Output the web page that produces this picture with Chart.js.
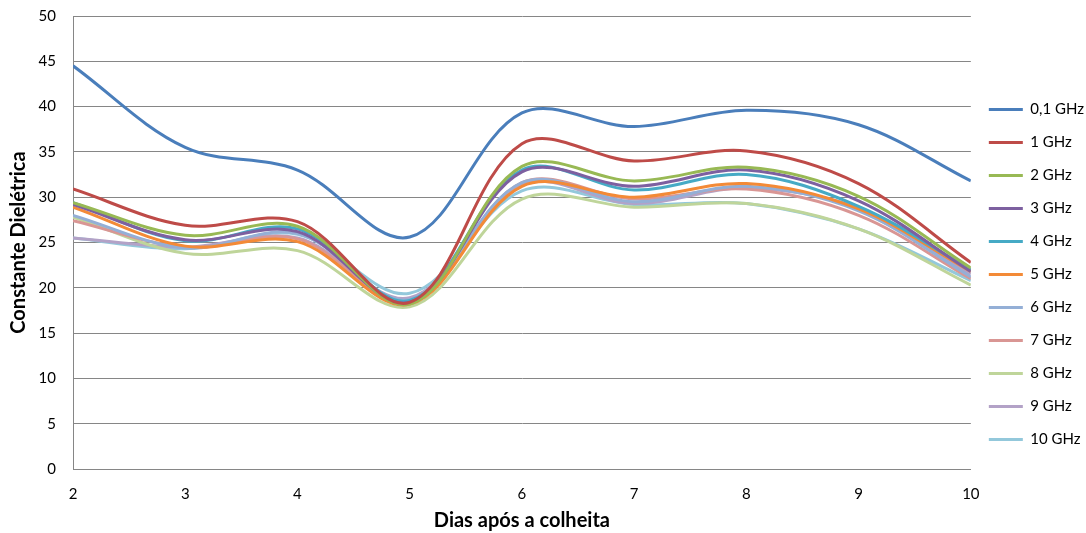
<!DOCTYPE html>
<html>
<head>
<meta charset="utf-8">
<script src="https://cdn.jsdelivr.net/npm/chart.js@4"></script>
<style>
  html, body { margin: 0; padding: 0; background: #fff; }
  #wrap { width: 1086px; height: 533px; }
</style>
</head>
<body>
<div id="wrap"><canvas id="chart" width="1086" height="533"></canvas></div>
<script>
const days = [2, 3, 4, 5, 6, 7, 8, 9, 10];

const seriesLabels = ['0,1 GHz', '1 GHz', '2 GHz', '3 GHz', '4 GHz', '5 GHz', '6 GHz', '7 GHz', '8 GHz', '9 GHz', '10 GHz'];
const seriesColors = ['#4A7EBB', '#BE4B48', '#98B954', '#7D60A0', '#46AAC5', '#F38A37', '#94AFD6', '#D99694', '#BFD59A', '#B3A2C7', '#93C8DB'];

const f01 = [44.5, 35.5, 33.0, 25.6, 39.3, 37.8, 39.6, 38.0, 31.8];
const f1 = [30.9, 26.9, 27.3, 18.4, 35.9, 34.0, 35.1, 31.5, 22.8];
const f2 = [29.4, 25.8, 26.8, 18.2, 33.4, 31.8, 33.3, 30.1, 22.2];
const f3 = [29.2, 25.3, 26.2, 18.4, 32.8, 31.2, 33.0, 29.6, 21.8];
const f4 = [29.4, 25.2, 26.5, 18.6, 33.0, 30.8, 32.5, 29.0, 22.0];
const f5 = [28.9, 24.6, 25.1, 18.2, 31.2, 30.0, 31.5, 28.7, 21.8];
const f6 = [28.0, 24.4, 26.0, 18.7, 31.6, 29.5, 31.2, 28.5, 21.2];
const f7 = [27.4, 24.5, 25.4, 18.4, 31.6, 29.8, 30.9, 28.0, 21.0];
const f8 = [27.8, 23.8, 24.1, 17.9, 29.8, 28.9, 29.3, 26.5, 20.3];
const f9 = [25.5, 24.5, 25.5, 18.9, 31.4, 29.3, 31.0, 28.8, 21.5];
const f10 = [25.5, 24.3, 25.9, 19.4, 30.7, 29.2, 29.3, 26.5, 20.8];

const seriesValues = [f01, f1, f2, f3, f4, f5, f6, f7, f8, f9, f10];

const fontFamily = 'Lato, "Open Sans", sans-serif';

const datasets = seriesLabels.map((label, i) => ({
    label: label,
    data: days.map((d, j) => ({ x: d, y: seriesValues[i][j] })),
    borderColor: seriesColors[i],
    backgroundColor: seriesColors[i],
    borderWidth: 3,
    pointRadius: 0,
    tension: 0.35,
    fill: false
}));

const ctx = document.getElementById('chart').getContext('2d');

new Chart(ctx, {
    type: 'line',
    data: { datasets: datasets },
    options: {
        responsive: false,
        animation: false,
        layout: { padding: { top: 16, right: -8, bottom: 0, left: 0 } },
        plugins: {
            tooltip: { enabled: false },
            legend: {
                position: 'right',
                labels: {
                    boxWidth: 34,
                    boxHeight: 3,
                    padding: 18,
                    color: '#000',
                    font: { family: fontFamily, size: 15 },
                    generateLabels: (chart) => chart.data.datasets.map((ds, i) => ({
                        text: ds.label,
                        fillStyle: ds.borderColor,
                        strokeStyle: ds.borderColor,
                        lineWidth: 0,
                        hidden: false,
                        datasetIndex: i
                    }))
                }
            }
        },
        scales: {
            x: {
                type: 'linear',
                min: 2,
                max: 10,
                ticks: {
                    stepSize: 1,
                    color: '#000',
                    padding: 16,
                    font: { family: fontFamily, size: 15 }
                },
                grid: { display: false, drawTicks: false },
                border: { color: '#868686', width: 1 },
                title: {
                    display: true,
                    text: 'Dias após a colheita',
                    color: '#000',
                    font: { family: fontFamily, size: 20, weight: 'bold' },
                    padding: { top: 4, bottom: 0 }
                },
                afterFit: (scale) => { scale.height = 64; }
            },
            y: {
                min: 0,
                max: 50,
                ticks: {
                    stepSize: 5,
                    color: '#000',
                    padding: 17,
                    font: { family: fontFamily, size: 15 }
                },
                grid: { color: '#868686', drawTicks: false },
                border: { color: '#868686', width: 1 },
                title: {
                    display: true,
                    text: 'Constante Dielétrica',
                    color: '#000',
                    font: { family: fontFamily, size: 20, weight: 'bold' },
                    padding: { top: 7, bottom: 0 }
                },
                afterFit: (scale) => {
                    scale.width = 73;
                    scale.paddingTop = 0;
                    scale.paddingBottom = 0;
                }
            }
        }
    }
});
</script>
</body>
</html>
